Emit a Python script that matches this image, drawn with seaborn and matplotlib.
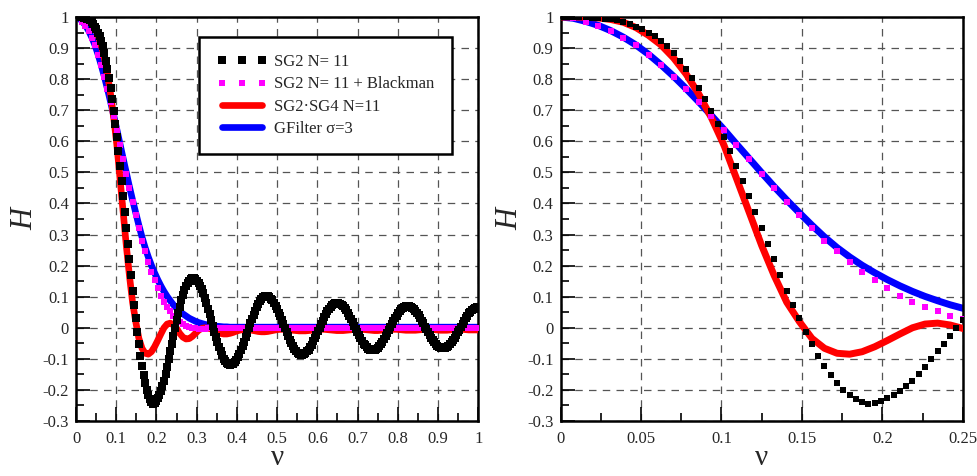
import numpy as np
import matplotlib
matplotlib.use("Agg")
import matplotlib.pyplot as plt
import seaborn as sns
from matplotlib.ticker import MultipleLocator, FuncFormatter

# Frequency responses
# SG2 N=11, one value every 1/256 in nu (0 .. 1)
h_sg2 = [
    1.000, 1.000, 1.000, 1.000, 0.999, 0.998, 0.997, 0.995, 0.993, 0.989,
    0.984, 0.977, 0.968, 0.960, 0.950, 0.938, 0.924, 0.906, 0.884,
    0.859, 0.833, 0.803, 0.770, 0.735, 0.697, 0.657, 0.615, 0.570, 0.522,
    0.472, 0.423, 0.373, 0.321, 0.271, 0.221, 0.169, 0.119, 0.073, 0.030,
    -0.012, -0.053, -0.090, -0.123, -0.152, -0.177, -0.199, -0.216, -0.230, -0.240,
    -0.245, -0.243, -0.237, -0.227, -0.217, -0.204, -0.188, -0.170, -0.149, -0.125,
    -0.100, -0.076, -0.051, -0.025, 0.000,
    0.024, 0.047, 0.068, 0.088, 0.106, 0.121, 0.134, 0.145, 0.152, 0.157, 0.160, 0.160,
    0.157, 0.152, 0.145, 0.136, 0.124, 0.111, 0.096, 0.079, 0.062, 0.044, 0.025, 0.007,
    -0.012, -0.030, -0.047, -0.062, -0.076, -0.089, -0.100, -0.108, -0.114, -0.118, -0.119,
    -0.118, -0.115, -0.110, -0.103, -0.094, -0.084, -0.072, -0.059, -0.046, -0.031, -0.016,
    -0.001, 0.014, 0.029, 0.042, 0.055, 0.067, 0.077, 0.086, 0.093, 0.098, 0.101, 0.102,
    0.101, 0.098, 0.094, 0.088, 0.080, 0.071, 0.061, 0.049, 0.037, 0.024, 0.011,
    -0.002, -0.015, -0.027, -0.039, -0.050, -0.060, -0.068, -0.075, -0.080, -0.084, -0.086,
    -0.086, -0.084, -0.081, -0.076, -0.070, -0.063, -0.054, -0.044, -0.034, -0.023, -0.011,
    0.000, 0.012, 0.023, 0.034, 0.044, 0.053, 0.062, 0.068, 0.074, 0.078, 0.080, 0.081,
    0.080, 0.078, 0.074, 0.069, 0.063, 0.056, 0.047, 0.038, 0.028, 0.018, 0.007,
    -0.004, -0.014, -0.024, -0.034, -0.043, -0.051, -0.057, -0.063, -0.067, -0.070, -0.072,
    -0.072, -0.070, -0.068, -0.064, -0.058, -0.052, -0.045, -0.037, -0.028, -0.018, -0.008,
    0.002, 0.011, 0.021, 0.030, 0.039, 0.047, 0.053, 0.059, 0.064, 0.067, 0.069, 0.070,
    0.069, 0.067, 0.064, 0.060, 0.054, 0.048, 0.040, 0.032, 0.023, 0.014, 0.004,
    -0.005, -0.014, -0.024, -0.032, -0.040, -0.047, -0.053, -0.058, -0.062, -0.065, -0.066,
    -0.066, -0.065, -0.062, -0.058, -0.053, -0.047, -0.040, -0.033, -0.024, -0.015, -0.006,
    0.003, 0.013, 0.022, 0.030, 0.039, 0.046, 0.052, 0.058, 0.062, 0.065, 0.067, 0.068,
]

# the other three curves, one value every 1/128 in nu (0 .. 1)
h_sg2_blackman = [
    1.000, 0.996, 0.985, 0.972, 0.955, 0.934, 0.909, 0.879, 0.845, 0.808,
    0.768, 0.726, 0.682, 0.637, 0.589, 0.542, 0.495, 0.449, 0.405, 0.363,
    0.321, 0.280, 0.246, 0.212, 0.180, 0.153, 0.127, 0.103, 0.084, 0.068,
    0.053, 0.039, 0.027,
    0.018, 0.011, 0.006, 0.002, 0.000, -0.002, -0.003, -0.003, -0.003, -0.002,
    -0.002, -0.001, -0.001,
    0.000, 0.000, 0.000, 0.000, 0.000, 0.000, 0.000, 0.000, 0.000, 0.000,
    0.000, 0.000, 0.000, 0.000, 0.000, 0.000, 0.000, 0.000, 0.000, 0.000,
    0.000, 0.000, 0.000, 0.000, 0.000, 0.000, 0.000, 0.000, 0.000, 0.000,
    0.000, 0.000, 0.000, 0.000, 0.000, 0.000, 0.000, 0.000, 0.000, 0.000,
    0.000, 0.000, 0.000, 0.000, 0.000, 0.000, 0.000, 0.000, 0.000, 0.000,
    0.000, 0.000, 0.000, 0.000, 0.000, 0.000, 0.000, 0.000, 0.000, 0.000,
    0.000, 0.000, 0.000, 0.000, 0.000, 0.000, 0.000, 0.000, 0.000, 0.000,
    0.000, 0.000, 0.000, 0.000, 0.000, 0.000, 0.000, 0.000, 0.000, 0.000,
    0.000, 0.000, 0.000,
]

h_sg2_sg4 = [
    1.000, 1.000, 0.999, 0.997, 0.992, 0.983, 0.966, 0.941, 0.910, 0.868,
    0.816, 0.752, 0.676, 0.588, 0.480, 0.373, 0.265, 0.168, 0.082, 0.020,
    -0.034, -0.066, -0.082, -0.085, -0.077, -0.061, -0.041, -0.020, 0.000, 0.012,
    0.015, 0.009, -0.002,
    -0.018, -0.030, -0.036, -0.035, -0.028, -0.018, -0.008, -0.002, 0.000, -0.001,
    -0.004, -0.009, -0.014, -0.018, -0.020, -0.020, -0.018, -0.015, -0.011, -0.008,
    -0.006, -0.005, -0.006, -0.008, -0.010, -0.012, -0.013, -0.013, -0.012, -0.010,
    -0.008, -0.006,
    -0.005, -0.005, -0.005, -0.006, -0.008, -0.009, -0.010, -0.010, -0.010, -0.009,
    -0.008, -0.006, -0.005, -0.005, -0.005, -0.006, -0.007, -0.008, -0.009, -0.009,
    -0.009, -0.008, -0.007, -0.006, -0.005, -0.005, -0.005, -0.006, -0.007, -0.008,
    -0.009, -0.009, -0.008, -0.007, -0.006, -0.005, -0.005, -0.005, -0.006, -0.007,
    -0.008, -0.008, -0.008, -0.008, -0.007, -0.006, -0.005, -0.005, -0.005, -0.006,
    -0.007, -0.008, -0.008, -0.008, -0.007, -0.006, -0.005, -0.005, -0.005, -0.006,
    -0.007, -0.007, -0.007, -0.007,
]

h_gauss = [
    1.000, 0.996, 0.986, 0.973, 0.956, 0.935, 0.910, 0.880, 0.846, 0.809,
    0.769, 0.727, 0.683, 0.638, 0.591, 0.545, 0.499, 0.454, 0.411, 0.370,
    0.330, 0.292, 0.258, 0.228, 0.201, 0.177, 0.155, 0.135, 0.117, 0.101,
    0.087, 0.074, 0.063,
    0.053, 0.045, 0.038, 0.031, 0.026, 0.021, 0.017, 0.014, 0.011, 0.009,
    0.007, 0.006, 0.005, 0.004, 0.003, 0.003, 0.002, 0.002, 0.002,
    0.002, 0.002, 0.002, 0.002, 0.002, 0.002, 0.002, 0.002, 0.002, 0.002, 0.002,
    0.002, 0.002, 0.002, 0.002, 0.002, 0.002, 0.002, 0.002, 0.002, 0.002, 0.002,
    0.002, 0.002, 0.002, 0.002, 0.002, 0.002, 0.002, 0.002, 0.002, 0.002, 0.002,
    0.002, 0.002, 0.002, 0.002, 0.002, 0.002, 0.002, 0.002, 0.002, 0.002, 0.002,
    0.002, 0.002, 0.002, 0.002, 0.002, 0.002, 0.002, 0.002, 0.002, 0.002, 0.002,
    0.002, 0.002, 0.002, 0.002, 0.002, 0.002, 0.002, 0.002, 0.002, 0.002, 0.002,
    0.002, 0.002, 0.002, 0.002, 0.002, 0.002, 0.002, 0.002, 0.002, 0.002, 0.002,
]

assert len(h_sg2) == 257
assert len(h_sg2_blackman) == len(h_sg2_sg4) == len(h_gauss) == 129

nu_fine = np.linspace(0, 1, len(h_sg2))
nu_coarse = np.linspace(0, 1, len(h_gauss))

labels = ["SG2 N= 11", "SG2 N= 11 + Blackman", "SG2\u00b7SG4 N=11", "GFilter \u03c3=3"]

sns.set_style("ticks")
plt.rcParams["font.family"] = ["Liberation Serif", "DejaVu Serif"]
plt.rcParams["axes.unicode_minus"] = False


def tick_fmt(v, _):
    return f"{round(v, 4) + 0.0:g}"


def draw_panel(ax, xmax, xmajor, xminor, ms_black, ms_mag, lw):
    sns.lineplot(x=nu_coarse, y=h_gauss, ax=ax, color="#0000ff", lw=lw,
                 solid_capstyle="round", label=labels[3], legend=False,
                 errorbar=None, zorder=2)
    sns.lineplot(x=nu_coarse, y=h_sg2_sg4, ax=ax, color="#ff0000", lw=lw,
                 solid_capstyle="round", label=labels[2], legend=False,
                 errorbar=None, zorder=3)
    sns.lineplot(x=nu_coarse, y=h_sg2_blackman, ax=ax, color="#ff00ff",
                 linestyle="none", marker="s", markersize=ms_mag,
                 markeredgewidth=0, label=labels[1], legend=False,
                 errorbar=None, zorder=4)
    sns.lineplot(x=nu_fine, y=h_sg2, ax=ax, color="black",
                 linestyle="none", marker="s", markersize=ms_black,
                 markeredgewidth=0, label=labels[0], legend=False,
                 errorbar=None, zorder=5)

    ax.set_xlim(0, xmax)
    ax.set_ylim(-0.3, 1)
    ax.xaxis.set_major_locator(MultipleLocator(xmajor))
    ax.xaxis.set_minor_locator(MultipleLocator(xminor))
    ax.yaxis.set_major_locator(MultipleLocator(0.1))
    ax.yaxis.set_minor_locator(MultipleLocator(0.05))
    ax.xaxis.set_major_formatter(FuncFormatter(tick_fmt))
    ax.yaxis.set_major_formatter(FuncFormatter(tick_fmt))

    ax.grid(True, which="major", color="#555555", lw=0.9, linestyle=(0, (6, 5)))
    ax.set_axisbelow(True)
    ax.tick_params(which="both", direction="in", top=False, right=False,
                   width=1.2, color="black")
    ax.tick_params(which="major", length=10, labelsize=12, pad=5)
    ax.tick_params(axis="x", which="major", pad=7)
    ax.tick_params(which="minor", length=5.5)
    for sp in ax.spines.values():
        sp.set_linewidth(1.8)
        sp.set_color("black")

    ax.set_xlabel("\u03bd", fontsize=21, labelpad=-1)
    ax.set_ylabel("H", fontsize=22, fontstyle="italic", labelpad=2)


fig, axes = plt.subplots(1, 2, figsize=(9.77, 4.76), dpi=100)
fig.subplots_adjust(left=0.0778, right=0.9854, bottom=0.1155, top=0.9643, wspace=0.2046)

draw_panel(axes[0], 1.0, 0.1, 0.05, ms_black=5.5, ms_mag=4.5, lw=4.8)
draw_panel(axes[1], 0.25, 0.05, 0.025, ms_black=4.2, ms_mag=3.8, lw=5.0)

# legend in the left panel, same order as the original
handles, names = axes[0].get_legend_handles_labels()
order = [names.index(n) for n in labels]
leg = axes[0].legend([handles[i] for i in order], labels, loc="upper left",
                     bbox_to_anchor=(0.306, 0.951), borderaxespad=0,
                     numpoints=3, markerscale=1.1, fontsize=12,
                     handlelength=3.0, handletextpad=0.45, borderpad=1.05,
                     labelspacing=0.37, frameon=True, fancybox=False,
                     framealpha=1, edgecolor="black")
leg.get_frame().set_linewidth(1.8)

fig.savefig("out.png", dpi=100)
